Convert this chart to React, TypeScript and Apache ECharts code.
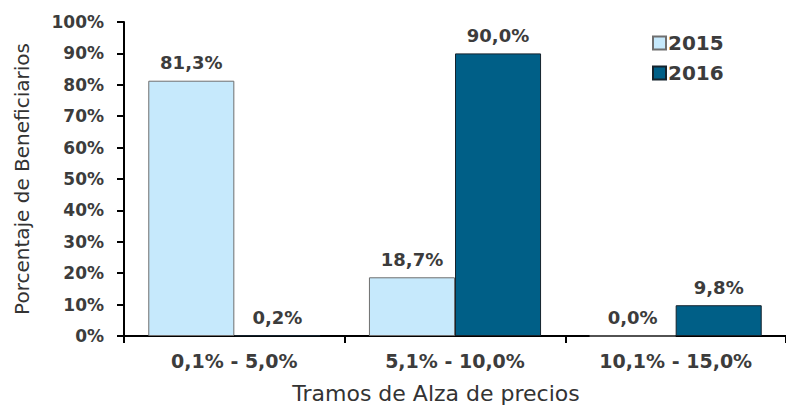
import React, { useEffect, useRef } from "react";
import * as echarts from "echarts";

const categories = ["0,1% - 5,0%", "5,1% - 10,0%", "10,1% - 15,0%"];
const years = ["2015", "2016"];
const values2015 = [81.3, 18.7, 0.0];
const values2016 = [0.2, 90.0, 9.8];

const fmt = (v: number) => v.toFixed(1).replace(".", ",") + "%";
const FONT = "DejaVu Sans";
const TEXT = "#3c3c3c";

export default function App() {
  const ref = useRef<HTMLDivElement>(null);
  useEffect(() => {
    const chart = echarts.init(ref.current!, undefined, { renderer: "svg" });
    const label = {
      show: true,
      position: "top" as const,
      distance: 9,
      formatter: (p: any) => fmt(p.value),
      fontFamily: FONT,
      fontSize: 18,
      fontWeight: "bold" as const,
      color: TEXT,
    };
    chart.setOption({
      animation: false,
      backgroundColor: "#ffffff",
      textStyle: { fontFamily: FONT },
      grid: { left: 124, top: 22, width: 672, height: 319, containLabel: false },
      legend: {
        orient: "vertical",
        left: 647,
        top: 26,
        icon: "rect",
        itemWidth: 13,
        itemHeight: 13,
        itemGap: 6,
        data: years,
        textStyle: {
          fontFamily: FONT,
          fontSize: 20,
          fontWeight: "bold",
          color: TEXT,
          lineHeight: 24,
          padding: [0, 0, 0, -3],
        },
      },
      xAxis: {
        type: "category",
        data: categories,
        axisLine: { lineStyle: { color: "#000000", width: 2 } },
        axisTick: { show: true, length: 7, lineStyle: { color: "#000000", width: 2 } },
        axisLabel: { fontFamily: FONT, fontSize: 19, fontWeight: "bold", color: TEXT, margin: 15 },
        name: "Tramos de Alza de precios",
        nameLocation: "middle",
        nameGap: 46,
        nameTextStyle: { fontFamily: FONT, fontSize: 22, color: "#333333", padding: [0, 38, 0, 0] },
      },
      yAxis: {
        type: "value",
        min: 0,
        max: 100,
        interval: 10,
        splitLine: { show: false },
        axisLine: { show: true, lineStyle: { color: "#000000", width: 2 } },
        axisTick: { show: true, length: 7, lineStyle: { color: "#000000", width: 2 } },
        axisLabel: {
          formatter: "{value}%",
          fontFamily: FONT,
          fontSize: 17,
          fontWeight: "bold",
          color: TEXT,
          margin: 20,
        },
        name: "Porcentaje de Beneficiarios",
        nameLocation: "middle",
        nameGap: 92,
        nameTextStyle: { fontFamily: FONT, fontSize: 20, color: "#333333" },
      },
      series: [
        {
          name: years[0],
          type: "bar",
          data: values2015,
          barGap: "0%",
          barCategoryGap: "22%",
          itemStyle: { color: "#c6e9fc", borderColor: "#6f6f6f", borderWidth: 1 },
          label,
        },
        {
          name: years[1],
          type: "bar",
          data: values2016,
          itemStyle: { color: "#005f87", borderColor: "#15232d", borderWidth: 1 },
          label,
        },
      ],
    });
    return () => chart.dispose();
  }, []);
  return (
    <div
      ref={ref}
      style={{
        position: "fixed",
        left: 0,
        top: 0,
        width: 786,
        height: 409,
        overflow: "hidden",
      }}
    />
  );
}
